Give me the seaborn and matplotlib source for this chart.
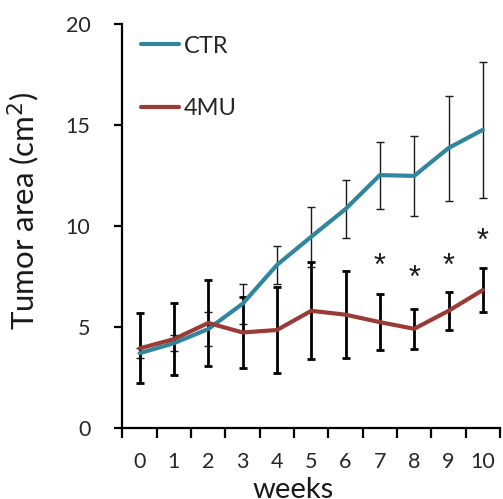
import numpy as np
import pandas as pd
import matplotlib
matplotlib.use("Agg")
import matplotlib.pyplot as plt
import seaborn as sns

# Tumor growth, mean ± error per week
weeks = [0, 1, 2, 3, 4, 5, 6, 7, 8, 9, 10]
ctr_mean = [3.7, 4.2, 4.9, 6.15, 8.07, 9.47, 10.84, 12.52, 12.48, 13.86, 14.76]
ctr_err = [0.25, 0.4, 0.82, 0.98, 0.94, 1.48, 1.43, 1.66, 2.0, 2.6, 3.36]
mu_mean = [3.94, 4.4, 5.2, 4.73, 4.85, 5.8, 5.61, 5.24, 4.91, 5.8, 6.83]
mu_err = [1.73, 1.79, 2.12, 1.77, 2.14, 2.4, 2.15, 1.38, 1.0, 0.95, 1.1]
groups = ["CTR", "4MU"]
colors = {"CTR": "#31859C", "4MU": "#9B3B38"}

# significance markers: week -> height of the asterisk
star_weeks = [7, 8, 9, 10]
star_y = [8.15, 7.53, 8.15, 9.39]

y_ticks = [0, 5, 10, 15, 20]

df = pd.DataFrame({
    "week": weeks * 2,
    "area": ctr_mean + mu_mean,
    "group": ["CTR"] * len(weeks) + ["4MU"] * len(weeks),
})

sns.set_theme(style="ticks")
plt.rcParams["font.family"] = ["Lato", "DejaVu Sans"]

fig = plt.figure(figsize=(5.03, 4.99), dpi=100)
ax = fig.add_axes([0.2435, 0.1423, 0.7505, 0.8096])

# error bars underneath the lines
ax.errorbar(weeks, ctr_mean, yerr=ctr_err, fmt="none", ecolor="#1a1a1a",
            elinewidth=1.0, capsize=3, capthick=1.0, zorder=2)
ax.errorbar(weeks, mu_mean, yerr=mu_err, fmt="none", ecolor="black",
            elinewidth=2.0, capsize=3, capthick=2.0, zorder=2)

sns.lineplot(data=df, x="week", y="area", hue="group", hue_order=groups,
             palette=colors, linewidth=3.0, ax=ax, zorder=3,
             solid_capstyle="round")

for w, y in zip(star_weeks, star_y):
    ax.text(w, y, "*", ha="center", va="center_baseline", fontsize=22,
            color="#1a1a1a", family="Liberation Sans",
            transform=ax.transData)

ax.set_xlim(-0.5, 10.5)
ax.set_ylim(0, 20)
ax.set_yticks(y_ticks)
ax.set_xticks(weeks)
ax.set_xticks(np.arange(-0.5, 11.0, 1.0), minor=True)
ax.tick_params(axis="x", which="major", length=0, pad=17, labelsize=15.5)
ax.tick_params(axis="x", which="minor", length=7, width=1.6, color="black")
ax.tick_params(axis="y", which="major", length=6, width=1.6, pad=17,
               labelsize=15.5, color="black")
for lab in ax.get_xticklabels() + ax.get_yticklabels():
    lab.set_color("#262626")

sns.despine(ax=ax)
for side in ("left", "bottom"):
    ax.spines[side].set_linewidth(1.6)
    ax.spines[side].set_color("black")

ax.set_xlabel("weeks", fontsize=21, color="#1a1a1a")
ax.xaxis.set_label_coords(0.451, -0.122)
ax.set_ylabel("Tumor area (cm$^2$)", fontsize=22.5, color="#1a1a1a")
ax.yaxis.set_label_coords(-0.212, 0.537)

sns.move_legend(ax, "center left", bbox_to_anchor=(0.05, 0.868), title=None,
                frameon=False, fontsize=17, handlelength=1.6,
                handletextpad=0.2, labelspacing=1.75, borderpad=0,
                borderaxespad=0)

fig.savefig("out.png", dpi=100)
